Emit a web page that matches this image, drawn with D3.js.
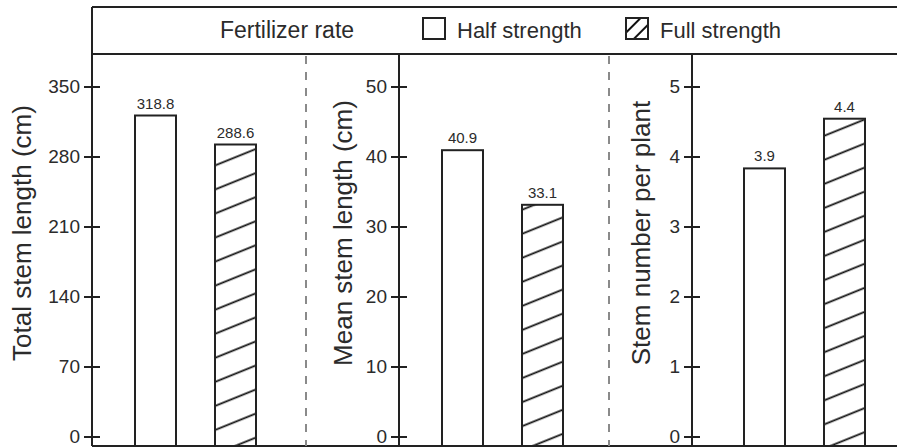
<!DOCTYPE html>
<html lang="en">
<head>
  <meta charset="UTF-8">
  <title>Fertilizer rate</title>
  <style>
    body { margin: 0; background: #fff; }
    text { font-family: "Liberation Sans", Arial, sans-serif; fill: #2b2b2b; }
  </style>
</head>
<body>
  <svg></svg>
  <script src="https://cdn.jsdelivr.net/npm/d3@7"></script>
  <script>
    const seriesNames = ["Half strength", "Full strength"]

    const totalLength = [321, 292]
    const totalLabels = ["318.8", "288.6"]
    const totalTicks = [0, 70, 140, 210, 280, 350]

    const meanLength = [40.9, 33.1]
    const meanLabels = ["40.9", "33.1"]
    const meanTicks = [0, 10, 20, 30, 40, 50]

    const stemNumber = [3.83, 4.54]
    const stemLabels = ["3.9", "4.4"]
    const stemTicks = [0, 1, 2, 3, 4, 5]

    const yTitles = ["Total stem length (cm)", "Mean stem length (cm)", "Stem number per plant"]
    const headerTitle = "Fertilizer rate"

    var width = 897
    var height = 448
    var frameLeft = 92
    var frameTop = 7
    var headerBottom = 54
    var bottom = 446

    var svg = d3.select("svg")
      .attr("width", width)
      .attr("height", height)

    var defs = svg.append("defs")
    defs.append("pattern")
      .attr("id", "hatch")
      .attr("patternUnits", "userSpaceOnUse")
      .attr("width", 10)
      .attr("height", 22.3)
      .attr("patternTransform", "rotate(-22)")
      .append("line")
      .attr("x1", -1).attr("x2", 11)
      .attr("y1", 11).attr("y2", 11)
      .attr("stroke", "#111")
      .attr("stroke-width", 1.8)

    defs.append("pattern")
      .attr("id", "hatchSmall")
      .attr("patternUnits", "userSpaceOnUse")
      .attr("width", 4)
      .attr("height", 10)
      .attr("patternTransform", "translate(626,18) rotate(-45)")
      .append("line")
      .attr("x1", -1).attr("x2", 5)
      .attr("y1", 5).attr("y2", 5)
      .attr("stroke", "#111")
      .attr("stroke-width", 2)

    const fills = d3.scaleOrdinal().domain(seriesNames).range(["#fff", "url(#hatch)"])

    const panels = [
      {values: totalLength, labels: totalLabels, ticks: totalTicks, title: yTitles[0], axisX: 92, titleX: 31, barOffset: 0},
      {values: meanLength, labels: meanLabels, ticks: meanTicks, title: yTitles[1], axisX: 399, titleX: 352, barOffset: 0},
      {values: stemNumber, labels: stemLabels, ticks: stemTicks, title: yTitles[2], axisX: 692, titleX: 650, barOffset: 9}
    ]
    const separators = [306, 609]

    // frame and header
    const frame = svg.append("g").attr("stroke", "#222").attr("stroke-width", 2)
    frame.append("line").attr("x1", frameLeft).attr("x2", width).attr("y1", frameTop).attr("y2", frameTop)
    frame.append("line").attr("x1", frameLeft).attr("x2", width).attr("y1", headerBottom).attr("y2", headerBottom)
    frame.append("line").attr("x1", frameLeft).attr("x2", width).attr("y1", bottom).attr("y2", bottom)
    frame.append("line").attr("x1", frameLeft).attr("x2", frameLeft).attr("y1", frameTop).attr("y2", bottom)

    svg.append("text")
      .attr("x", 287).attr("y", 38)
      .attr("text-anchor", "middle")
      .style("font-size", "23px")
      .text(headerTitle)

    const legendX = [423, 626]
    const legend = svg.selectAll("g.legend")
      .data(seriesNames)
      .join("g")
      .attr("class", "legend")
      .attr("transform", (d, i) => `translate(${legendX[i]},18)`)
    legend.append("rect")
      .attr("width", 22).attr("height", 21)
      .attr("fill", (d, i) => i === 0 ? "#fff" : "url(#hatchSmall)")
      .attr("stroke", "#222")
      .attr("stroke-width", 2)
    legend.append("text")
      .attr("x", 34).attr("y", 19.5)
      .style("font-size", "22px")
      .text(d => d)

    // dashed separators
    svg.selectAll("line.sep")
      .data(separators)
      .join("line")
      .attr("class", "sep")
      .attr("x1", d => d).attr("x2", d => d)
      .attr("y1", headerBottom + 2).attr("y2", bottom)
      .attr("stroke", "#8a8a8a")
      .attr("stroke-width", 2)
      .attr("stroke-dasharray", "8,8")

    panels.forEach(p => {
      const y = d3.scaleLinear()
        .domain([0, d3.max(p.ticks)])
        .range([436.5, 86.5])

      const x = d3.scaleBand()
        .domain(seriesNames)
        .range([p.axisX + 3 + p.barOffset, p.axisX + 204 + p.barOffset])
        .paddingInner(0.4875)
        .paddingOuter(0.5)

      const g = svg.append("g")

      g.append("line")
        .attr("x1", p.axisX).attr("x2", p.axisX)
        .attr("y1", headerBottom).attr("y2", bottom)
        .attr("stroke", "#222").attr("stroke-width", 2)

      const axis = g.append("g")
        .attr("transform", `translate(${p.axisX},0)`)
        .call(d3.axisLeft(y).tickValues(p.ticks).tickFormat(d3.format("d")).tickSize(8).tickPadding(4).tickSizeOuter(0))
      axis.select(".domain").remove()
      axis.selectAll(".tick line")
        .attr("x1", -8).attr("x2", 8)
        .attr("stroke", "#222").attr("stroke-width", 2)
      axis.selectAll(".tick text")
        .attr("fill", "#2b2b2b")
        .style("font-family", '"Liberation Sans", Arial, sans-serif')
        .style("font-size", "19px")

      g.append("text")
        .attr("transform", `translate(${p.titleX},233) rotate(-90)`)
        .attr("text-anchor", "middle")
        .style("font-size", "26px")
        .text(p.title)

      const bars = seriesNames.map((name, i) => ({name, value: p.values[i], label: p.labels[i]}))

      g.selectAll("rect")
        .data(bars)
        .join("rect")
        .attr("x", d => x(d.name))
        .attr("y", d => y(d.value))
        .attr("width", x.bandwidth())
        .attr("height", d => bottom - y(d.value))
        .attr("fill", d => fills(d.name))
        .attr("stroke", "#222")
        .attr("stroke-width", 2)

      g.selectAll("text.val")
        .data(bars)
        .join("text")
        .attr("class", "val")
        .attr("x", d => x(d.name) + x.bandwidth() / 2)
        .attr("y", d => y(d.value) - 7)
        .attr("text-anchor", "middle")
        .style("font-size", "15px")
        .text(d => d.label)
    })
  </script>
</body>
</html>
